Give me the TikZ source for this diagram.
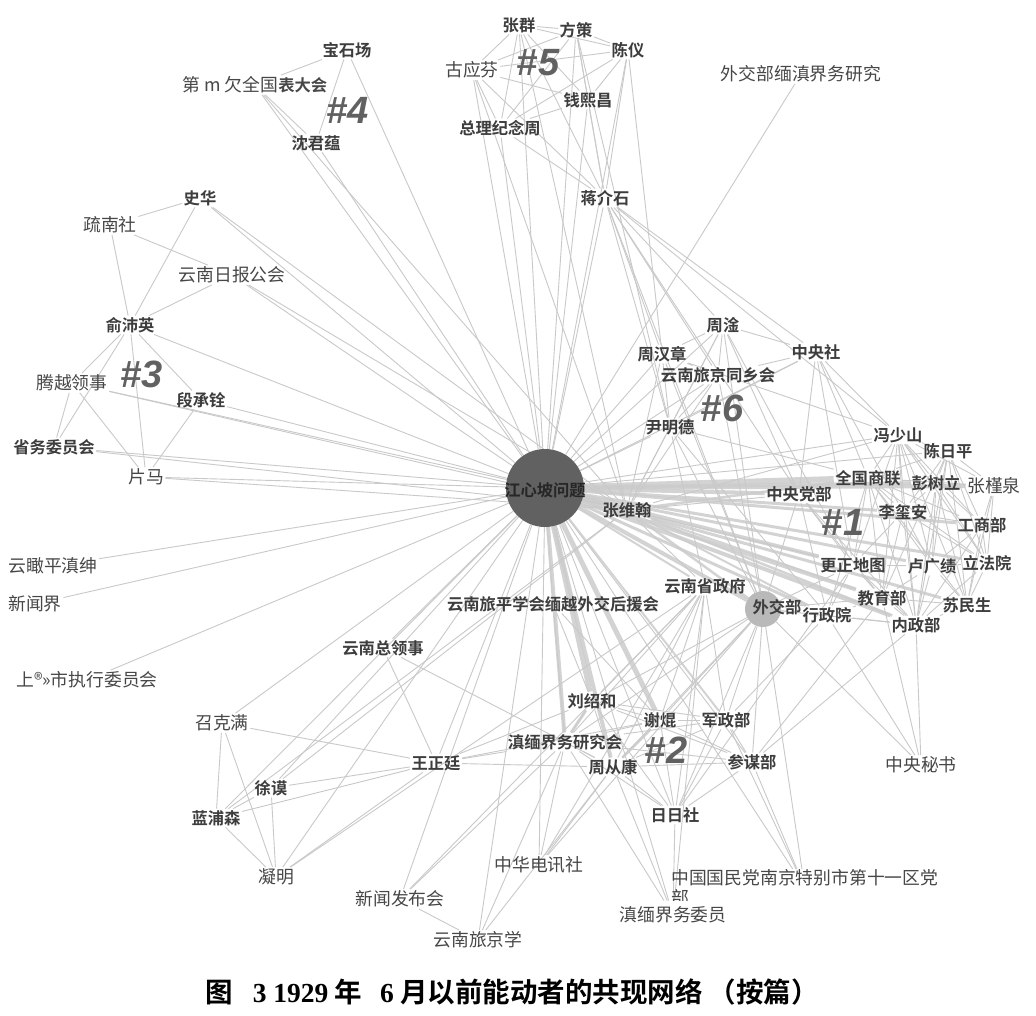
\documentclass[tikz,border=0pt]{standalone}
\usepackage{fontspec}
\newfontfamily\hei{Noto Sans CJK SC}[BoldFont={* Bold}]
\newfontfamily\song{Noto Sans CJK SC}
\newfontfamily\numf{Liberation Sans}
\newfontfamily\capser{Liberation Serif}
\usepackage{tikz}
\usetikzlibrary{backgrounds}

\tikzset{
  lbl/.style={font=\hei\bfseries\fontsize{16.3}{18}\selectfont, text=black!76, inner sep=1.5pt},
  slbl/.style={font=\song\fontsize{17.8}{20}\selectfont, text=black!72, inner sep=1.5pt},
  tag/.style={font=\numf\bfseries\itshape\fontsize{38}{38}\selectfont, text=black!62},
  edge/.style={gray!42, line width=0.9pt},
  bund/.style={gray!40, line width=#1, opacity=0.85},
}

\begin{document}
\begin{tikzpicture}[x=1pt, y=-1pt]
  \useasboundingbox (0,0) rectangle (1036,1016);

  % hubs
  \node[circle, minimum size=78pt, fill=black!62, inner sep=0pt] (jxp) at (545,488) {};
  \node[lbl, text=black!85, inner sep=0pt] at (545,490) {江心坡问题};
  \node[circle, minimum size=36pt, fill=gray!55, inner sep=0pt] (wjb) at (763,609) {};
  \node[lbl] (wjbl) at (777,607) {外交部};

  % cluster #4
  \node[lbl] (bsc) at (347,50) {宝石场};
  \node[slbl, anchor=west] (dmq) at (181,85) {第\ m\ 欠全国{\hei\bfseries\fontsize{16.3}{18}\selectfont 表大会}};
  \node[lbl] (sjy) at (316,143) {沈君蕴};
  \node[tag] (t4) at (348,110) {\#4};

  % cluster #5
  \node[lbl] (zq) at (519,25) {张群};
  \node[lbl] (fc) at (576,30) {方策};
  \node[lbl] (cy) at (628,50) {陈仪};
  \node[slbl] (gyf) at (472,70) {古应芬};
  \node[lbl] (qxc) at (588,100) {钱熙昌};
  \node[lbl] (zljn) at (500,128) {总理纪念周};
  \node[lbl] (jjs) at (605,198) {蒋介石};
  \node[tag] (t5) at (538,63) {\#5};
  \node[slbl] (wjyj) at (801,74) {外交部缅滇界务研究};

  % cluster #3
  \node[lbl] (sh) at (200,198) {史华};
  \node[slbl] (sns) at (110,225) {疏南社};
  \node[slbl] (ynrb) at (232,275) {云南日报公会};
  \node[lbl] (ypy) at (130,325) {俞沛英};
  \node[slbl] (tyls) at (72,383) {腾越领事};
  \node[lbl] (dcq) at (201,400) {段承铨};
  \node[lbl] (swwy) at (54,447) {省务委员会};
  \node[slbl] (pm) at (146,477) {片马};
  \node[tag] (t3) at (142,374) {\#3};

  % left singles
  \node[slbl] (ypdx) at (53,566) {云瞰平滇绅};
  \node[slbl] (xwj) at (35,604) {新闻界};
  \node[slbl] (shzw) at (87,680) {上®»市执行委员会};

  % cluster #6
  \node[lbl] (zg) at (723,325) {周淦};
  \node[lbl] (zhz) at (662,354) {周汉章};
  \node[lbl] (zys) at (816,352) {中央社};
  \node[lbl] (ynlj) at (718,375) {云南旅京同乡会};
  \node[lbl] (ymd) at (670,427) {尹明德};
  \node[tag] (t6) at (722,408) {\#6};

  % cluster #1
  \node[lbl] (fss) at (898,435) {冯少山};
  \node[lbl] (crp) at (948,451) {陈日平};
  \node[lbl] (qgsl) at (868,478) {全国商联};
  \node[lbl] (psl) at (936,483) {彭树立};
  \node[slbl] (zjq) at (994,486) {张槿泉};
  \node[lbl] (zydb) at (799,494) {中央党部};
  \node[lbl] (zwh) at (627,510) {张维翰};
  \node[lbl] (lxa) at (903,512) {李玺安};
  \node[lbl] (gsb) at (982,525) {工商部};
  \node[lbl] (gzdt) at (853,565) {更正地图};
  \node[lbl] (lgj) at (932,566) {卢广绩};
  \node[lbl] (lfy) at (987,563) {立法院};
  \node[lbl] (ynsz) at (705,586) {云南省政府};
  \node[lbl] (jyb) at (882,598) {教育部};
  \node[lbl] (sms) at (967,605) {苏民生};
  \node[lbl] (xzy) at (827,615) {行政院};
  \node[lbl] (nzb) at (916,625) {内政部};
  \node[tag] (t1) at (843,522) {\#1};

  % cluster #2
  \node[lbl] (ynlp) at (553,604) {云南旅平学会缅越外交后援会};
  \node[lbl] (ynzl) at (383,648) {云南总领事};
  \node[lbl] (lsh) at (592,701) {刘绍和};
  \node[lbl] (xk) at (660,720) {谢焜};
  \node[lbl] (jzb) at (726,720) {军政部};
  \node[lbl] (dmyj) at (565,742) {滇缅界务研究会};
  \node[lbl] (zck) at (613,767) {周从康};
  \node[lbl] (cmb) at (752,762) {参谋部};
  \node[lbl] (wzt) at (436,763) {王正廷};
  \node[lbl] (rrs) at (675,815) {日日社};
  \node[tag] (t2) at (666,750) {\#2};

  % bottom left group
  \node[slbl] (zkm) at (222,723) {召克满};
  \node[lbl] (xm) at (271,788) {徐谟};
  \node[lbl] (lps) at (216,818) {蓝浦森};
  \node[slbl] (nm) at (276,877) {凝明};

  % bottom singles
  \node[slbl] (xwfb) at (400,899) {新闻发布会};
  \node[slbl] (ynljx) at (478,940) {云南旅京学};
  \node[slbl] (zhdx) at (539,865) {中华电讯社};
  \node[slbl, anchor=north west, align=left, inner sep=0pt] (gmd) at (671,869) {中国国民党南京特别市第十一区党\\部};
  \node[slbl, fill=white, inner ysep=6pt] (dmwy) at (673,915) {滇缅界务委员};
  \node[slbl] (zyms) at (921,765) {中央秘书};

  % caption
  \node (cap) at (512,992) {\hei\bfseries\fontsize{27.5}{29}\selectfont 图\hspace{20pt}{\capser\bfseries 3 1929} 年\hspace{18pt}{\capser\bfseries 6} 月以前能动者的共现网络\hspace{6pt}（按篇）};

  \begin{scope}[on background layer]
    \fill[white] (0,0) rectangle (1036,1016);

    % spokes of the hub
    \foreach \a in {bsc,dmq,sjy,zq,fc,cy,gyf,qxc,zljn,jjs,wjyj,sh,ynrb,ypy,tyls,dcq,swwy,pm,
                    ypdx,xwj,shzw,zkm,xm,lps,nm,xwfb,ynljx,zhdx,wzt,ynzl,ynlp,rrs,gmd,dmwy,
                    zg,zhz,zys,ynlj,ymd,fss,crp,cmb}
      \draw[edge] (jxp) -- (\a);

    % heavy ties of the hub
    \foreach \a/\w in {qgsl/6pt,zwh/5pt,psl/4pt,zjq/4pt,zydb/4pt,lxa/3pt,gzdt/4pt,lgj/3pt,
                       jyb/4pt,xzy/3pt,nzb/4pt,wjb/4pt,sms/3pt,lfy/3pt,gsb/3pt,
                       lsh/5pt,dmyj/4pt,xk/5pt,zck/4pt,jzb/2pt,ynsz/2pt}
      \draw[bund=\w] (jxp) -- (\a);

    % #4 and #5
    \foreach \a/\b in {bsc/dmq,bsc/sjy,dmq/sjy,dmq/zwh,
                       zq/fc,zq/cy,zq/gyf,zq/qxc,zq/zljn,zq/jjs,fc/cy,fc/gyf,fc/qxc,fc/zljn,
                       fc/jjs,cy/gyf,cy/qxc,cy/zljn,cy/jjs,gyf/qxc,gyf/zljn,gyf/jjs,qxc/zljn,
                       qxc/jjs,zljn/jjs,jjs/zg,jjs/zydb,jjs/ynlj,jjs/wjb,jjs/zys,jjs/fss,
                       jjs/zhz,jjs/ymd,gyf/zwh,zq/zwh,fc/ymd,cy/zhz}
      \draw[edge] (\a) -- (\b);

    % #3
    \foreach \a/\b in {ypy/sh,ypy/sns,ypy/ynrb,ypy/tyls,ypy/dcq,ypy/pm,ypy/swwy,tyls/swwy,
                       tyls/pm,dcq/pm,sh/sns,sns/ynrb,sh/zwh,ynrb/zwh,tyls/zwh,swwy/zwh,pm/zwh}
      \draw[edge] (\a) -- (\b);

    % #6
    \foreach \a/\b in {zg/zhz,zg/zys,zg/ynlj,zg/ymd,zhz/ynlj,zhz/ymd,zys/ynlj,zys/ymd,ynlj/ymd,
                       zys/fss,zys/qgsl,zys/zydb,zys/lxa,zys/gzdt,zg/zydb,zg/wjb,zg/zwh,
                       zhz/zwh,zhz/wjb,ymd/zwh,ymd/ynsz,ymd/wjb,ymd/xzy,ynlj/wjb,ynlj/zwh,
                       ymd/qgsl,zg/gzdt,zhz/fss}
      \draw[edge] (\a) -- (\b);

    % #1
    \foreach \a/\b in {fss/crp,fss/qgsl,fss/psl,fss/zjq,fss/lxa,fss/gsb,fss/gzdt,fss/lgj,
                       fss/lfy,fss/jyb,fss/sms,fss/nzb,crp/qgsl,crp/psl,crp/zjq,crp/lxa,
                       crp/gsb,crp/lgj,crp/lfy,crp/jyb,crp/sms,crp/nzb,qgsl/psl,qgsl/zjq,
                       qgsl/lxa,qgsl/gsb,qgsl/gzdt,qgsl/lgj,qgsl/lfy,qgsl/jyb,qgsl/sms,
                       qgsl/nzb,qgsl/xzy,psl/zjq,psl/lxa,psl/gsb,psl/lgj,psl/lfy,psl/sms,
                       psl/nzb,zjq/gsb,zjq/lfy,zjq/sms,lxa/gsb,lxa/gzdt,lxa/lgj,lxa/lfy,
                       lxa/jyb,lxa/nzb,gsb/lgj,gsb/lfy,gsb/sms,gsb/nzb,gzdt/lgj,gzdt/jyb,
                       gzdt/xzy,gzdt/nzb,gzdt/wjb,lgj/lfy,lgj/jyb,lgj/sms,lgj/nzb,lfy/sms,
                       lfy/nzb,jyb/xzy,jyb/nzb,jyb/sms,jyb/wjb,xzy/nzb,xzy/wjb,nzb/sms,
                       nzb/wjb,zydb/qgsl,zydb/wjb,zydb/xzy,zydb/jyb,zydb/nzb,zydb/gzdt,
                       zwh/ynsz,zwh/gzdt,zwh/zydb,zwh/fss}
      \draw[edge] (\a) -- (\b);
    \foreach \a/\w in {wjb/2.5pt,jyb/2pt,nzb/2.5pt,xzy/2pt,qgsl/2.5pt}
      \draw[bund=\w] (zwh) -- (\a);

    % #2
    \foreach \a/\b in {lsh/xk,lsh/jzb,lsh/dmyj,lsh/zck,lsh/cmb,lsh/rrs,xk/jzb,xk/dmyj,xk/zck,
                       xk/cmb,xk/rrs,jzb/dmyj,jzb/zck,jzb/cmb,jzb/rrs,dmyj/zck,dmyj/cmb,
                       dmyj/rrs,zck/cmb,zck/rrs,cmb/rrs,wzt/dmyj,wzt/zck,wzt/lsh,wzt/xk,
                       wjb/lsh,wjb/xk,wjb/jzb,wjb/dmyj,wjb/zck,wjb/cmb,wjb/rrs,ynsz/lsh,
                       ynsz/xk,ynsz/dmyj,ynsz/zck,ynsz/jzb,ynsz/rrs,ynlp/dmyj,ynlp/lsh,
                       ynlp/xk,gmd/jzb,gmd/cmb,gmd/wjb,dmwy/rrs,dmwy/dmyj,dmwy/zck,
                       dmwy/ynsz,zhdx/dmyj,zhdx/zck,zhdx/wjb,zhdx/ynsz,ynljx/dmyj,
                       ynljx/zck,xwfb/dmyj,xwfb/ynljx,xwfb/ynsz,ynzl/zck,ynzl/wzt,
                       cmb/jyb,cmb/nzb,jzb/xzy,rrs/gzdt}
      \draw[edge] (\a) -- (\b);
    \draw[bund=3pt] (lsh) -- (dmyj);
    \draw[bund=2.5pt] (xk) -- (zck);

    % others
    \foreach \a/\b in {zyms/nzb,zyms/jyb,zyms/wjb,zyms/xzy,
                       zkm/lps,zkm/wzt,zkm/nm,lps/xm,lps/wzt,lps/nm,xm/wzt,xm/nm,nm/wzt,
                       nm/ynsz,lps/zwh,xm/zwh}
      \draw[edge] (\a) -- (\b);
  \end{scope}
\end{tikzpicture}
\end{document}
